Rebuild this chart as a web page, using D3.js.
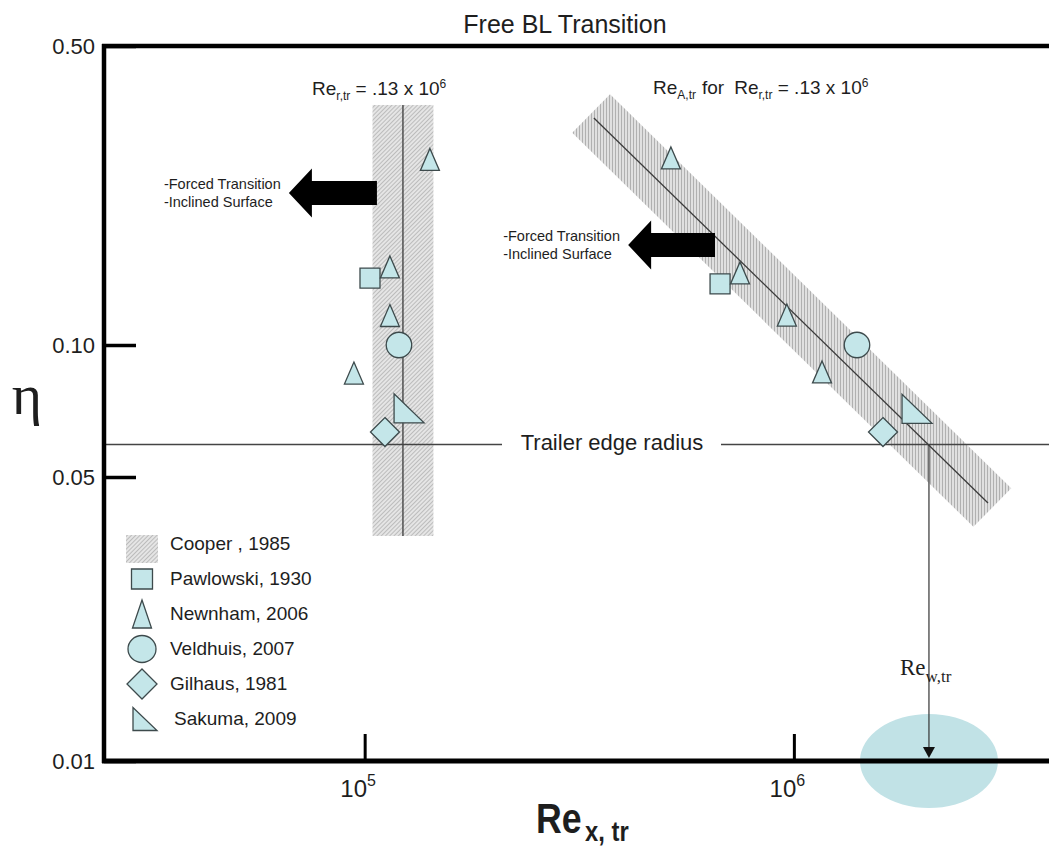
<!DOCTYPE html>
<html>
<head>
<meta charset="utf-8">
<script src="https://cdn.jsdelivr.net/npm/d3@7"></script>
<style>
  body { margin: 0; background: #fff; }
  svg text { font-family: "Liberation Sans", Arial, sans-serif; fill: #1e1e1e; }
</style>
</head>
<body>
<div id="chart"></div>
<script>

// ---- data (Re_x,tr , eta) ----
var pawlowski = [[1.029e5, 0.1434], [6.73e5, 0.1389]];
var newnham = [[1.419e5, 0.2715], [1.145e5, 0.1522], [1.145e5, 0.1172], [9.44e4, 0.0863],
               [5.17e5, 0.2737], [7.49e5, 0.1474], [9.63e5, 0.1175], [1.163e6, 0.0868]];
var veldhuis = [[1.202e5, 0.1], [1.403e6, 0.1]];
var gilhaus = [[1.115e5, 0.0633], [1.613e6, 0.0633]];
var sakuma = [[1.269e5, 0.0717], [1.936e6, 0.0715]];

// Cooper 1985 bands
var cooperReRange = [1.043e5, 1.446e5];
var cooperEtaRange = [0.0358, 0.364];
var cooperReCentre = 1.228e5;
var cooperDiagBand = [[3.37e5, 0.3477], [2.90e6, 0.04206]];
var cooperDiagLine = [[3.42e5, 0.3395], [2.833e6, 0.04315]];

var trailerEta = 0.0593;
var reWtr = 2.064e6;

// "forced transition" arrows: [tail Re, tip Re, eta]
var forcedArrows = [[1.068e5, 6.66e4, 0.2266], [6.55e5, 4.11e5, 0.1713]];

var yTickValues = [0.01, 0.05, 0.1, 0.5];
var yTickLabels = ["0.01", "0.05", "0.10", "0.50"];
var xTickValues = [1e5, 1e6];
var xTickExponents = ["5", "6"];

var series = [
  {name: "Pawlowski, 1930", shape: "square", values: pawlowski},
  {name: "Newnham, 2006", shape: "triangle", values: newnham},
  {name: "Veldhuis, 2007", shape: "circle", values: veldhuis},
  {name: "Gilhaus, 1981", shape: "diamond", values: gilhaus},
  {name: "Sakuma, 2009", shape: "sakuma", values: sakuma}
];

var width = 1049, height = 846;
var plotLeft = 104, plotTop = 46, plotBottom = 761;

var x = d3.scaleLog().domain([2.47e4, 3.93e6]).range([plotLeft, width]);
// the original axis is hand drawn, so each decade piece gets its own span
var y = d3.scaleLog().domain([0.01, 0.05, 0.1, 0.5]).range([plotBottom, 477, 345, plotTop]);

var markFill = "#c4e6e9", markStroke = "#3d4a4c";

var svg = d3.select("#chart").append("svg")
  .attr("width", width)
  .attr("height", height);

var defs = svg.append("defs");

var diag = defs.append("pattern")
  .attr("id", "hatchDiag")
  .attr("patternUnits", "userSpaceOnUse")
  .attr("width", 3).attr("height", 3)
  .attr("patternTransform", "rotate(45)");
diag.append("rect").attr("width", 3).attr("height", 3).attr("fill", "#e5e5e5");
diag.append("rect").attr("width", 1).attr("height", 3).attr("fill", "#bcbcbc");

var vert = defs.append("pattern")
  .attr("id", "hatchVert")
  .attr("patternUnits", "userSpaceOnUse")
  .attr("width", 3).attr("height", 3);
vert.append("rect").attr("width", 3).attr("height", 3).attr("fill", "#e0e0e0");
vert.append("rect").attr("width", 1).attr("height", 3).attr("fill", "#b0b0b0");

function symbolPath(type, w, h) {
  if (type == "square")
    return "M" + (-w/2) + "," + (-h/2) + "h" + w + "v" + h + "h" + (-w) + "Z";
  if (type == "triangle")
    return "M0," + (-h/2) + "L" + (w/2) + "," + (h/2) + "L" + (-w/2) + "," + (h/2) + "Z";
  if (type == "circle")
    return "M" + (w/2) + ",0A" + w/2 + "," + h/2 + " 0 1 1 " + (-w/2) + ",0A" + w/2 + "," + h/2 + " 0 1 1 " + (w/2) + ",0Z";
  if (type == "diamond")
    return "M0," + (-h/2) + "L" + (w/2) + ",0L0," + (h/2) + "L" + (-w/2) + ",0Z";
  // Sakuma: right angle bottom-left
  return "M" + (-w/2) + "," + (-h/2) + "L" + (-w/2) + "," + (h/2) + "L" + (w/2) + "," + (h/2) + "Z";
}

var chartSize = {square: [20, 20], triangle: [19, 22], circle: [25.5, 25.5], diamond: [29, 29], sakuma: [30, 29]};
var legendSize = {square: [21, 20], triangle: [19, 28], circle: [28, 27], diamond: [30, 30], sakuma: [24, 23]};

// ---- Cooper bands ----
svg.append("rect")
  .attr("x", x(cooperReRange[0]))
  .attr("y", y(cooperEtaRange[1]))
  .attr("width", x(cooperReRange[1]) - x(cooperReRange[0]))
  .attr("height", y(cooperEtaRange[0]) - y(cooperEtaRange[1]))
  .attr("fill", "url(#hatchDiag)");

var p0 = [x(cooperDiagBand[0][0]), y(cooperDiagBand[0][1])],
    p1 = [x(cooperDiagBand[1][0]), y(cooperDiagBand[1][1])],
    len = Math.hypot(p1[0] - p0[0], p1[1] - p0[1]),
    nx = -(p1[1] - p0[1]) / len * 27,
    ny = (p1[0] - p0[0]) / len * 27;

svg.append("polygon")
  .attr("points", [[p0[0] + nx, p0[1] + ny], [p0[0] - nx, p0[1] - ny],
                   [p1[0] - nx, p1[1] - ny], [p1[0] + nx, p1[1] + ny]].join(" "))
  .attr("fill", "url(#hatchVert)");

svg.append("line")
  .attr("x1", x(cooperReCentre)).attr("x2", x(cooperReCentre))
  .attr("y1", y(cooperEtaRange[1])).attr("y2", y(cooperEtaRange[0]))
  .attr("stroke", "#3a3a3a").attr("stroke-width", 1.3);

svg.append("line")
  .attr("x1", x(cooperDiagLine[0][0])).attr("y1", y(cooperDiagLine[0][1]))
  .attr("x2", x(cooperDiagLine[1][0])).attr("y2", y(cooperDiagLine[1][1]))
  .attr("stroke", "#3a3a3a").attr("stroke-width", 1.3);

// ---- trailer edge radius ----
var ty = y(trailerEta);
svg.append("line")
  .attr("x1", plotLeft).attr("x2", 502).attr("y1", ty).attr("y2", ty)
  .attr("stroke", "#444").attr("stroke-width", 1.3);
svg.append("line")
  .attr("x1", 721).attr("x2", width).attr("y1", ty).attr("y2", ty)
  .attr("stroke", "#444").attr("stroke-width", 1.3);
svg.append("text")
  .attr("x", 612).attr("y", ty + 5)
  .attr("text-anchor", "middle")
  .style("font-size", "22px")
  .text("Trailer edge radius");

// ---- Re_w,tr ellipse + arrow ----
svg.append("ellipse")
  .attr("cx", x(reWtr)).attr("cy", y(0.01))
  .attr("rx", 69).attr("ry", 47)
  .attr("fill", "#c1e2e6");

svg.append("line")
  .attr("x1", x(reWtr)).attr("x2", x(reWtr))
  .attr("y1", ty).attr("y2", y(0.01) - 12)
  .attr("stroke", "#333").attr("stroke-width", 1.2);
svg.append("path")
  .attr("d", "M" + (x(reWtr) - 6) + "," + (y(0.01) - 14) + "h12l-6,11Z")
  .attr("fill", "#111");

var rw = svg.append("text")
  .attr("x", 900).attr("y", 675)
  .style("font-family", "'Liberation Serif', 'Times New Roman', serif")
  .style("font-size", "23px");
rw.append("tspan").text("Re");
rw.append("tspan").attr("dy", 7).style("font-size", "17px").text("w,tr");

// ---- forced transition arrows ----
forcedArrows.forEach(function(a) {
  var tx = x(a[0]), hx = x(a[1]), ay = y(a[2]);
  svg.append("polygon")
    .attr("points", [[tx, ay - 12], [hx + 23, ay - 12], [hx + 23, ay - 24.5], [hx, ay],
                     [hx + 23, ay + 24.5], [hx + 23, ay + 12], [tx, ay + 12]].join(" "))
    .attr("fill", "#000");
  var t = svg.append("text")
    .attr("x", hx - 125).attr("y", ay - 4)
    .style("font-size", "14.5px");
  t.append("tspan").text("-Forced Transition");
  t.append("tspan").attr("x", hx - 125).attr("dy", 18).text("-Inclined Surface");
});

// ---- data marks ----
series.forEach(function(s) {
  svg.append("g")
    .selectAll("path")
    .data(s.values)
    .enter()
    .append("path")
    .attr("transform", function(d) { return "translate(" + x(d[0]) + "," + y(d[1]) + ")"; })
    .attr("d", symbolPath(s.shape, chartSize[s.shape][0], chartSize[s.shape][1]))
    .attr("fill", markFill)
    .attr("stroke", markStroke)
    .attr("stroke-width", 1.3);
});

// ---- labels above the bands ----
var l1 = svg.append("text").attr("x", 312).attr("y", 95).style("font-size", "19px");
l1.append("tspan").text("Re");
l1.append("tspan").attr("dy", 5).style("font-size", "12px").text("r,tr");
l1.append("tspan").attr("dy", -5).text(" = .13 x 10");
l1.append("tspan").attr("dy", -7).style("font-size", "12px").text("6");

var l2 = svg.append("text").attr("x", 653).attr("y", 94).style("font-size", "19px");
l2.append("tspan").text("Re");
l2.append("tspan").attr("dy", 5).style("font-size", "12px").text("A,tr");
l2.append("tspan").attr("dy", -5).attr("dx", 6).text("for");
l2.append("tspan").attr("dx", 10).text("Re");
l2.append("tspan").attr("dy", 5).style("font-size", "12px").text("r,tr");
l2.append("tspan").attr("dy", -5).text(" = .13 x 10");
l2.append("tspan").attr("dy", -7).style("font-size", "12px").text("6");

// ---- axes ----
var yAxis = d3.axisLeft(y)
  .tickValues(yTickValues)
  .tickFormat(function(d, i) { return yTickLabels[i]; })
  .tickSizeInner(-32)
  .tickSizeOuter(0)
  .tickPadding(9);

var gy = svg.append("g")
  .attr("transform", "translate(" + plotLeft + ",0)")
  .call(yAxis);
gy.select(".domain").remove();
gy.selectAll(".tick line").attr("stroke", "#000").attr("stroke-width", 3.5);
gy.selectAll(".tick text")
  .attr("fill", "#222")
  .style("font-size", "22px")
  .style("font-family", "'Liberation Sans', Arial, sans-serif");

var xAxis = d3.axisBottom(x)
  .tickValues(xTickValues)
  .tickSizeInner(-27)
  .tickSizeOuter(0);

var gx = svg.append("g")
  .attr("transform", "translate(0," + plotBottom + ")")
  .call(xAxis);
gx.select(".domain").remove();
gx.selectAll(".tick line").attr("stroke", "#000").attr("stroke-width", 3);
gx.selectAll(".tick text")
  .text("")
  .attr("x", -7).attr("y", 36).attr("dy", null)
  .attr("text-anchor", "middle")
  .attr("fill", "#222")
  .style("font-size", "24px")
  .style("font-family", "'Liberation Sans', Arial, sans-serif")
  .each(function(d, i) {
    d3.select(this).append("tspan").text("10");
    d3.select(this).append("tspan").attr("dy", -11).style("font-size", "16px").text(xTickExponents[i]);
  });

// frame lines
svg.append("line").attr("x1", plotLeft - 2).attr("x2", width).attr("y1", plotTop).attr("y2", plotTop)
  .attr("stroke", "#000").attr("stroke-width", 4.5);
svg.append("line").attr("x1", plotLeft).attr("x2", plotLeft).attr("y1", plotTop - 2).attr("y2", plotBottom + 2)
  .attr("stroke", "#000").attr("stroke-width", 4.5);
svg.append("line").attr("x1", plotLeft - 2).attr("x2", width).attr("y1", plotBottom).attr("y2", plotBottom)
  .attr("stroke", "#000").attr("stroke-width", 5);

// ---- titles ----
svg.append("text")
  .attr("x", 565).attr("y", 33)
  .attr("text-anchor", "middle")
  .style("font-size", "25px")
  .text("Free BL Transition");

svg.append("text")
  .attr("x", 27).attr("y", 414)
  .attr("text-anchor", "middle")
  .style("font-family", "'Liberation Serif', 'Times New Roman', serif")
  .style("font-size", "58px")
  .text("\u03b7");

var xt = svg.append("text")
  .attr("transform", "translate(536,833) scale(0.85,1)")
  .style("font-size", "42px")
  .style("font-weight", "bold");
xt.append("tspan").text("Re");
xt.append("tspan").attr("dy", 8).attr("dx", 4).style("font-size", "28px").text("x, tr");

// ---- legend ----
var legendTop = 543, legendStep = 35;
var lg = svg.append("g");

lg.append("rect")
  .attr("x", 126).attr("y", legendTop - 8)
  .attr("width", 32).attr("height", 28)
  .attr("fill", "url(#hatchDiag)");
lg.append("text")
  .attr("x", 170).attr("y", legendTop + 7)
  .style("font-size", "19px")
  .text("Cooper , 1985");

series.forEach(function(s, i) {
  var ly = legendTop + legendStep * (i + 1);
  lg.append("path")
    .attr("transform", "translate(" + (s.shape == "sakuma" ? 145 : 142) + "," + (ly + 1) + ")")
    .attr("d", symbolPath(s.shape, legendSize[s.shape][0], legendSize[s.shape][1]))
    .attr("fill", markFill)
    .attr("stroke", markStroke)
    .attr("stroke-width", 1.3);
  lg.append("text")
    .attr("x", s.shape == "sakuma" ? 174 : 170).attr("y", ly + 7)
    .style("font-size", "19px")
    .text(s.name);
});

</script>
</body>
</html>
